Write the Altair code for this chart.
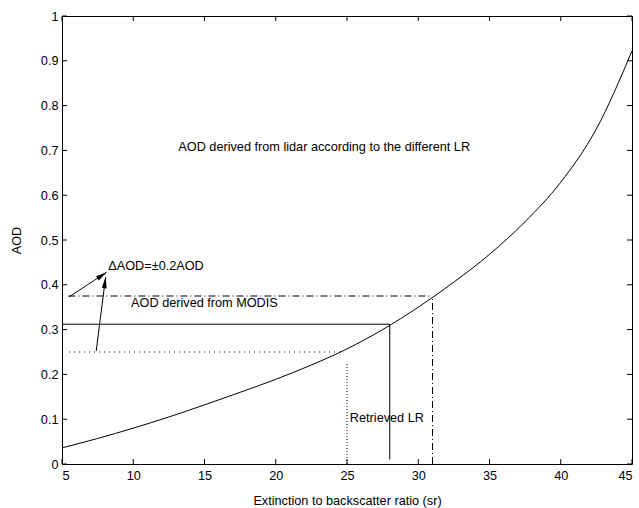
import math
import altair as alt
import pandas as pd

FONT = "Liberation Sans"
FS = 12.7
W, H = 570, 448

# AOD retrieved from the lidar as a function of the lidar ratio
lr_values = [5, 7.5, 10, 12.5, 15, 17.5, 20, 22.5, 25, 27.5, 30, 32.5, 35, 37.5, 40, 42.5, 45]
aod_values = [0.036, 0.057, 0.080, 0.105, 0.132, 0.160, 0.189, 0.221, 0.257, 0.300,
              0.350, 0.406, 0.468, 0.541, 0.629, 0.748, 0.922]

# guide segments: MODIS AOD (solid), +/-20 % bounds (dash-dot, dotted)
solid_x = [5, 28]
solid_x2 = [28, 28]
solid_y = [0.312, 0.01]
solid_y2 = [0.312, 0.312]

dashdot_x = [5.45, 31]
dashdot_x2 = [31, 31]
dashdot_y = [0.375, 0.0]
dashdot_y2 = [0.375, 0.375]

dotted_h_x = [5.5]
dotted_h_x2 = [24.7]
dotted_h_y = [0.25]
dotted_h_y2 = [0.25]

dotted_v_x = [25]
dotted_v_x2 = [25]
dotted_v_y = [0.0]
dotted_v_y2 = [0.228]

# arrows pointing at the uncertainty label
arrow_x0 = [5.5, 7.4]
arrow_y0 = [0.373, 0.252]
arrow_x1 = [8.13, 8.06]
arrow_y1 = [0.428, 0.417]

# text annotations
note_text = ["AOD derived from lidar according to the different LR", "\u0394AOD=\u00b10.2AOD",
             "AOD derived from MODIS", "Retrieved LR"]
note_x = [23.4, 8.25, 9.85, 25.2]
note_y = [0.708, 0.442, 0.36, 0.103]
note_align = ["center", "left", "left", "left"]

x_ticks = [5, 10, 15, 20, 25, 30, 35, 40, 45]
y_ticks = [0, 0.1, 0.2, 0.3, 0.4, 0.5, 0.6, 0.7, 0.8, 0.9, 1]

xs = alt.Scale(domain=[5, 45], nice=False, zero=False)
ys = alt.Scale(domain=[0, 1], nice=False, zero=False)

curve_df = pd.DataFrame({"lr": lr_values, "aod": aod_values})


def seg_df(x, x2, y, y2):
    return pd.DataFrame({"x": x, "x2": x2, "y": y, "y2": y2})


curve = alt.Chart(curve_df).mark_line(color="black", strokeWidth=1, interpolate="monotone").encode(
    x=alt.X("lr:Q", scale=xs,
            axis=alt.Axis(values=x_ticks, title="Extinction to backscatter ratio (sr)",
                          labelPadding=5, titlePadding=13)),
    y=alt.Y("aod:Q", scale=ys,
            axis=alt.Axis(values=y_ticks, format="~g", title="AOD",
                          labelPadding=4, titlePadding=17)),
)


def seg_layer(df, dash):
    kw = {"color": "black", "strokeWidth": 1}
    if dash:
        kw["strokeDash"] = dash
    return alt.Chart(df).mark_rule(**kw).encode(
        x=alt.X("x:Q", scale=xs), x2="x2", y=alt.Y("y:Q", scale=ys), y2="y2")


solid = seg_layer(seg_df(solid_x, solid_x2, solid_y, solid_y2), None)
dashdot = seg_layer(seg_df(dashdot_x, dashdot_x2, dashdot_y, dashdot_y2), [7, 3, 1, 3])
dotted_h = seg_layer(seg_df(dotted_h_x, dotted_h_x2, dotted_h_y, dotted_h_y2), [1, 4])
dotted_v = seg_layer(seg_df(dotted_v_x, dotted_v_x2, dotted_v_y, dotted_v_y2), [1, 2])

arrow_df = pd.DataFrame({"x": arrow_x0, "x2": arrow_x1, "y": arrow_y0, "y2": arrow_y1})
# screen-space direction of each arrow -> rotation of its head (clockwise from up)
px_x = W / 40.0
px_y = H / 1.0
arrow_df["angle"] = [
    (math.degrees(math.atan2((b - a) * px_x, (d - c) * px_y)) + 360) % 360
    for a, b, c, d in zip(arrow_x0, arrow_x1, arrow_y0, arrow_y1)
]
shafts = alt.Chart(arrow_df).mark_rule(color="black", strokeWidth=1).encode(
    x=alt.X("x:Q", scale=xs), x2="x2", y=alt.Y("y:Q", scale=ys), y2="y2")
heads = alt.Chart(arrow_df).mark_point(
    shape="M0,0L-0.5,2.2L0.5,2.2Z", filled=True, color="black", opacity=1, size=100
).encode(
    x=alt.X("x2:Q", scale=xs), y=alt.Y("y2:Q", scale=ys),
    angle=alt.Angle("angle:Q", scale=None))

notes_df = pd.DataFrame({"t": note_text, "x": note_x, "y": note_y, "a": note_align})
notes = []
for align in ["center", "left"]:
    notes.append(
        alt.Chart(notes_df[notes_df.a == align]).mark_text(
            align=align, baseline="middle", font=FONT, fontSize=FS, color="black"
        ).encode(x=alt.X("x:Q", scale=xs), y=alt.Y("y:Q", scale=ys), text="t:N"))

# inward tick marks on all four sides of the box
xt = pd.DataFrame({"v": x_ticks})
yt = pd.DataFrame({"v": y_ticks})
tick_len = 5
ticks = [
    alt.Chart(xt).mark_rule(color="black", strokeWidth=1).encode(
        x=alt.X("v:Q", scale=xs), y=alt.value(H), y2=alt.value(H - tick_len)),
    alt.Chart(xt).mark_rule(color="black", strokeWidth=1).encode(
        x=alt.X("v:Q", scale=xs), y=alt.value(0), y2=alt.value(tick_len)),
    alt.Chart(yt).mark_rule(color="black", strokeWidth=1).encode(
        y=alt.Y("v:Q", scale=ys), x=alt.value(0), x2=alt.value(tick_len)),
    alt.Chart(yt).mark_rule(color="black", strokeWidth=1).encode(
        y=alt.Y("v:Q", scale=ys), x=alt.value(W), x2=alt.value(W - tick_len)),
]

chart = alt.layer(curve, solid, dashdot, dotted_h, dotted_v, shafts, heads, *notes, *ticks).properties(
    width=W, height=H,
    autosize=alt.AutoSizeParams(type="none"),
    padding={"left": 62, "top": 16, "right": 7, "bottom": 44},
    background="white",
).configure_view(
    stroke="black", strokeWidth=1
).configure_axis(
    grid=False, domain=False, ticks=False,
    labelFont=FONT, labelFontSize=FS, labelColor="black",
    titleFont=FONT, titleFontSize=FS, titleColor="black", titleFontWeight="normal",
)

chart.save("out.html", embed_options={"renderer": "svg", "actions": False})
